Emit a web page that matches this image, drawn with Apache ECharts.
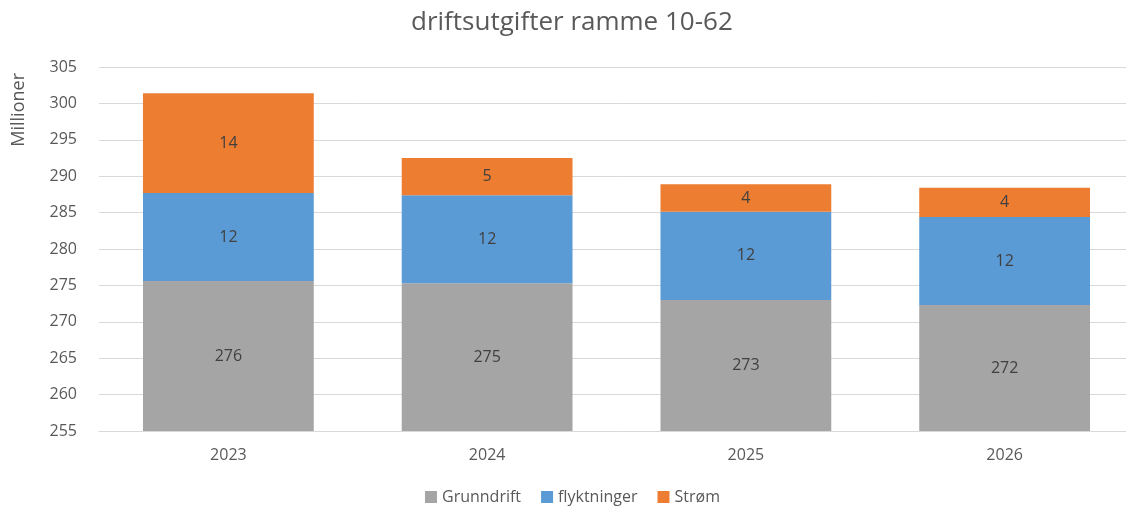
<!DOCTYPE html>
<html><head><meta charset="utf-8">
<script src="https://cdn.jsdelivr.net/npm/echarts@6/dist/echarts.min.js"></script>
<style>html,body{margin:0;padding:0;background:#fff;overflow:hidden}#c{width:1134px;height:510px}</style>
</head><body><div id="c"></div>
<script>
const categories = ['2023', '2024', '2025', '2026'];
const grunndrift = [275.6, 275.3, 273.0, 272.3];
const flyktninger = [12.1, 12.1, 12.1, 12.1];
const strom = [13.7, 5.1, 3.8, 4.0];
const seriesNames = ['Grunndrift', 'flyktninger', 'Strøm'];
const colors = ['#A5A5A5', '#5B9BD5', '#ED7D31'];
const FONT = '"Open Sans", "Noto Sans", sans-serif';

const chart = echarts.init(document.getElementById('c'));
const lbl = {
  show: true, position: 'inside', color: '#404040', fontSize: 16, fontFamily: FONT,
  formatter: p => Math.round(p.value)
};
const data = [grunndrift, flyktninger, strom];
chart.setOption({
  animation: false,
  color: colors,
  title: {
    text: 'driftsutgifter ramme 10-62', left: 406, top: 5,
    textStyle: { color: '#595959', fontSize: 26, fontWeight: 'normal', fontFamily: FONT }
  },
  legend: {
    bottom: 0, left: 420, itemWidth: 12, itemHeight: 12, itemGap: 20,
    icon: 'rect',
    textStyle: { color: '#595959', fontSize: 16, fontFamily: FONT }
  },
  graphic: [{
    type: 'text', left: 10, top: 73, rotation: Math.PI / 2,
    style: { text: 'Millioner', fill: '#595959', font: '18px ' + FONT }
  }],
  grid: { left: 99, right: 0, top: 67, bottom: 79 },
  xAxis: {
    type: 'category', data: categories,
    axisLine: { lineStyle: { color: '#D9D9D9' } },
    axisTick: { show: false },
    axisLabel: { color: '#595959', fontSize: 16, fontFamily: FONT, margin: 16 }
  },
  yAxis: {
    type: 'value', min: 255, max: 305, interval: 5,
    axisLine: { show: false }, axisTick: { show: false },
    splitLine: { lineStyle: { color: '#D9D9D9' } },
    axisLabel: { color: '#595959', fontSize: 16, fontFamily: FONT, margin: 22 }
  },
  series: seriesNames.map((n, i) => ({
    name: n, type: 'bar', stack: 'total', barWidth: '66%',
    data: data[i], label: lbl
  }))
});
</script></body></html>
